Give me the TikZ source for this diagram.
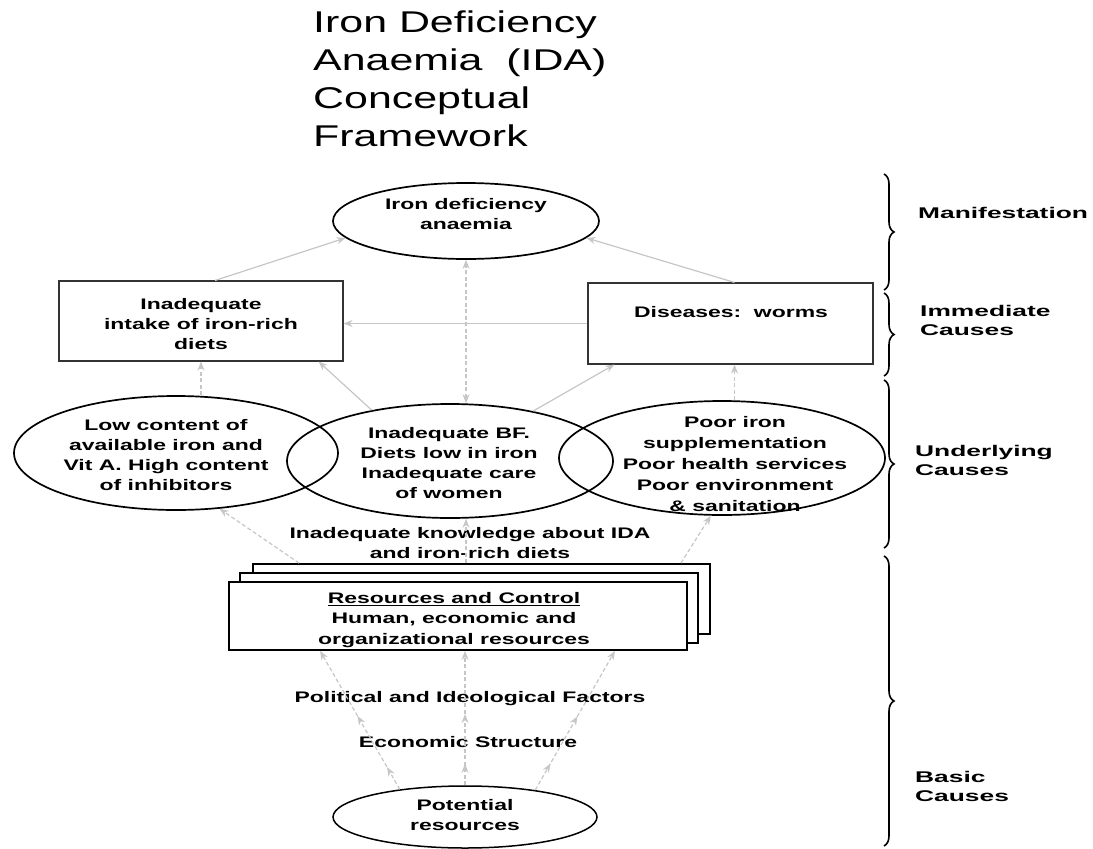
\documentclass[tikz,border=0pt]{standalone}
\usepackage{fontspec}
\setmainfont{Liberation Sans}
\newfontfamily\titlefont[FakeStretch=1.43]{Liberation Sans}
\newfontfamily\bodyfont[FakeStretch=1.5]{Liberation Sans}
\newfontfamily\labfont[FakeStretch=1.7]{Liberation Sans}
\usetikzlibrary{shapes.geometric,arrows.meta,decorations.pathreplacing,decorations.markings}
\begin{document}
\begin{tikzpicture}[x=1pt,y=-1pt,
  txt/.style={align=center, inner sep=0, font=\bodyfont\bfseries\fontsize{15.3}{20}\selectfont},
  lab/.style={align=left, anchor=west, inner sep=0, font=\labfont\bfseries\fontsize{15.5}{19}\selectfont},
  ell/.style={ellipse, draw=black, line width=1.7pt, inner sep=0},
  thinrect/.style={draw=black!80, line width=1.1pt, inner sep=0},
  stackrect/.style={draw=black, fill=white, line width=1.8pt, inner sep=0},
  garrow/.style={draw=gray!45, color=gray!45, line width=1.2pt, -{Stealth[length=9pt,width=7pt]}},
  gdash/.style={garrow, dash pattern=on 4pt off 2.5pt},
  bracestyle/.style={decorate, decoration={brace, amplitude=10pt}, line width=1.6pt, draw=black},
  multiarrow/.style={gdash, postaction={decorate}, decoration={markings,
      mark=at position #1 with {\arrow{Stealth[length=9pt,width=7pt]}},
      mark=at position 0.53 with {\arrow{Stealth[length=9pt,width=7pt]}}}}
]
\useasboundingbox (0,0) rectangle (1093,849);

% title
\node[anchor=north west, align=left, inner sep=0,
  font=\titlefont\fontsize{30}{38}\selectfont] (title) at (313,11)
  {Iron Deficiency\\Anaemia\ \ (IDA)\\Conceptual\\Framework};

% manifestation
\node[ell, minimum width=266pt, minimum height=76pt] (T) at (466,221) {};
\node[txt] (Tt) at (466,214) {Iron deficiency\\anaemia};

% immediate causes
\node[thinrect, minimum width=284pt, minimum height=80pt] (LR) at (201,321) {};
\node[txt] (LRt) at (201,324) {Inadequate\\intake of iron-rich\\diets};
\node[thinrect, minimum width=285pt, minimum height=81pt] (RR) at (730.5,323.5) {};
\node[txt] (RRt) at (731,312) {Diseases:\ \ worms};

% underlying causes
\node[ell, minimum width=324pt, minimum height=114pt] (L) at (176,453) {};
\node[ell, minimum width=326pt, minimum height=114pt] (M) at (450,461) {};
\node[ell, minimum width=326pt, minimum height=114pt] (R) at (722,458) {};
\node[txt] (Lt) at (166,455) {Low content of\\available iron and\\Vit A. High content\\of inhibitors};
\node[txt] (Mt) at (449,463) {Inadequate BF.\\Diets low in iron\\Inadequate care\\of women};
\node[txt, font=\bodyfont\bfseries\fontsize{15.3}{21}\selectfont] (Rt) at (735,464) {Poor iron\\supplementation\\Poor health services\\Poor environment\\\&\ sanitation};
\node[txt] (K) at (470,543) {Inadequate knowledge about IDA\\and iron-rich diets};

% basic causes
\node[stackrect, minimum width=457pt, minimum height=70pt] (SB) at (481.5,599) {};
\node[stackrect, minimum width=458pt, minimum height=70pt] (SM) at (469,608) {};
\node[stackrect, minimum width=458pt, minimum height=68pt] (F) at (458,616) {};
\node[txt, font=\bodyfont\bfseries\fontsize{15.3}{20.5}\selectfont] (Ft) at (454,620)
  {\underline{Resources and Control}\\Human, economic and\\organizational resources};
\node[txt] (P) at (470,699) {Political and Ideological Factors};
\node[txt] (E) at (468,742) {Economic Structure};
\node[ell, line width=1.5pt, minimum width=264pt, minimum height=62pt] (B) at (465,817) {};
\node[txt] (Bt) at (465,815) {Potential\\resources};

% connectors: immediate -> manifestation
\draw[garrow] ([xshift=14pt]LR.north) -- (T.188);
\draw[garrow] ([xshift=4pt]RR.north) -- (T.352);
\draw[gdash, {Stealth[length=9pt,width=7pt]}-{Stealth[length=9pt,width=7pt]}] (T.south |- M.north) -- (T.south);
\draw[garrow] (RR.west) -- (RR.west -| LR.east);

% underlying -> immediate
\draw[gdash] (LR.south |- L.north) -- (LR.south);
\draw[garrow] (M.147) -- ([xshift=-25pt]LR.south east);
\draw[garrow] (M.31) -- ([xshift=27pt]RR.south west);
\draw[gdash] ([xshift=4pt]RR.south |- R.north) -- ([xshift=4pt]RR.south);

% resources -> underlying
\draw[gdash] ([xshift=47pt]SB.north west) -- (L.308);
\draw[gdash] (T.south |- SB.north) -- (T.south |- M.south);
\draw[gdash] ([xshift=-30pt]SB.north east) -- (R.259);

% potential -> resources
\draw[multiarrow=0.16] (B.157) -- ([xshift=92pt]F.south west);
\draw[multiarrow=0.16] (B.north) -- (B.north |- F.south);
\draw[multiarrow=0.19] (B.21) -- ([xshift=-73pt]F.south east);

% braces
\coordinate (b1t) at (884,174); \coordinate (b1b) at (884,290);
\coordinate (b2t) at (884,293); \coordinate (b2b) at (884,376);
\coordinate (b3t) at (884,380); \coordinate (b3b) at (884,548);
\coordinate (b4t) at (884,556); \coordinate (b4b) at (884,846);
\draw[bracestyle] (b1t) -- (b1b);
\draw[bracestyle] (b2t) -- (b2b);
\draw[bracestyle] (b3t) -- (b3b);
\draw[bracestyle] (b4t) -- (b4b);

\node[lab] (l1) at (918,213) {Manifestation};
\node[lab] (l2) at (920,320) {Immediate\\Causes};
\node[lab] (l3) at (915,460) {Underlying\\Causes};
\node[lab] (l4) at (915,786) {Basic\\Causes};
\end{tikzpicture}
\end{document}
